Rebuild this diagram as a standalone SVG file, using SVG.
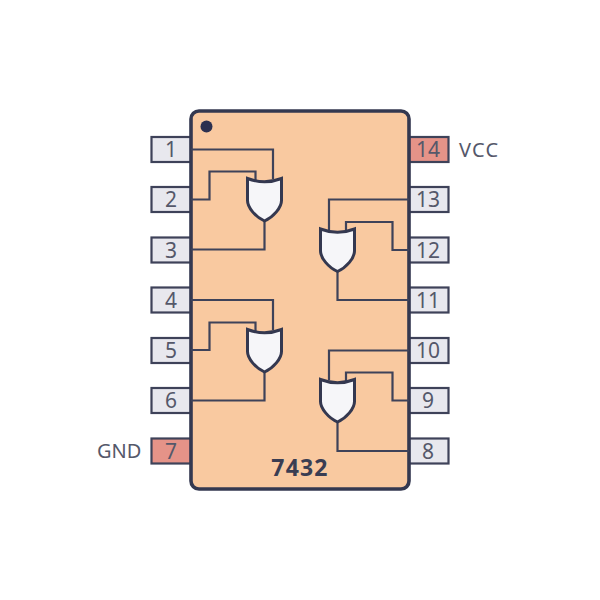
<svg xmlns="http://www.w3.org/2000/svg" width="600" height="600" viewBox="0 0 600 600">
<defs>
<style>
.pin{fill:#e8e8ee;stroke:#3e4259;stroke-width:2.2}
.pwr{fill:#e59388;stroke:#3e4259;stroke-width:2.2}
.num{font-family:"Noto Sans","Open Sans",sans-serif;font-size:21px;fill:#55586a;text-anchor:middle}
.lbl{font-family:"Noto Sans","Open Sans",sans-serif;font-size:20px;fill:#55586a}
.wire{fill:none;stroke:#3e4259;stroke-width:2.2;stroke-linejoin:miter}
.gate{fill:#f6f6f9;stroke:#343850;stroke-width:3;stroke-linejoin:miter}
</style>
<path id="or" d="M-17 0C-11 2.300 -6 3.300 0 3.300C6 3.300 11 2.300 17 0V22C17 29 9 38.500 0 42.500C-9 38.500 -17 29 -17 22Z"/>
</defs>
<g id="pins">
<g id="pin1"><rect class="pin" x="151.500" y="137" width="39.500" height="25"/><text class="num" x="171" y="157">1</text></g>
<g id="pin2"><rect class="pin" x="151.500" y="187" width="39.500" height="25"/><text class="num" x="171" y="207">2</text></g>
<g id="pin3"><rect class="pin" x="151.500" y="237.500" width="39.500" height="25"/><text class="num" x="171" y="257.500">3</text></g>
<g id="pin4"><rect class="pin" x="151.500" y="287.500" width="39.500" height="25"/><text class="num" x="171" y="307.500">4</text></g>
<g id="pin5"><rect class="pin" x="151.500" y="338" width="39.500" height="25"/><text class="num" x="171" y="358">5</text></g>
<g id="pin6"><rect class="pin" x="151.500" y="388" width="39.500" height="25"/><text class="num" x="171" y="408">6</text></g>
<g id="pin7"><rect class="pwr" x="151.500" y="438.500" width="39.500" height="25"/><text class="num" x="171" y="458.500">7</text></g>
<g id="pin8"><rect class="pin" x="409" y="438.500" width="39.500" height="25"/><text class="num" x="428" y="458.500">8</text></g>
<g id="pin9"><rect class="pin" x="409" y="388" width="39.500" height="25"/><text class="num" x="428" y="408">9</text></g>
<g id="pin10"><rect class="pin" x="409" y="338" width="39.500" height="25"/><text class="num" x="428" y="358">10</text></g>
<g id="pin11"><rect class="pin" x="409" y="287.500" width="39.500" height="25"/><text class="num" x="428" y="307.500">11</text></g>
<g id="pin12"><rect class="pin" x="409" y="237.500" width="39.500" height="25"/><text class="num" x="428" y="257.500">12</text></g>
<g id="pin13"><rect class="pin" x="409" y="187" width="39.500" height="25"/><text class="num" x="428" y="207">13</text></g>
<g id="pin14"><rect class="pwr" x="409" y="137" width="39.500" height="25"/><text class="num" x="428" y="157">14</text></g>
</g>
<g id="chip">
<rect x="191" y="111" width="218" height="378" rx="8" fill="#f9c9a0" stroke="#343850" stroke-width="3.600"/>
<circle cx="206.500" cy="126.500" r="6" fill="#2c3050"/>
<text x="300" y="476" font-family="'Noto Sans','Open Sans',sans-serif" font-size="23" font-weight="700" letter-spacing="1.200" fill="#3a3d52" text-anchor="middle">7432</text>
</g>
<g id="connectors">
<path class="wire" d="M191 149.500H273V179"/>
<path class="wire" d="M191 199.500H209.500V171.500H255.500V180"/>
<path class="wire" d="M191 249.500H264.500V221"/>
<path class="wire" d="M409 199.500H329V230"/>
<path class="wire" d="M409 250H392.500V222H346V231"/>
<path class="wire" d="M409 300H337.500V272"/>
<path class="wire" d="M191 300H273V330"/>
<path class="wire" d="M191 350H209.500V322.500H255.500V331"/>
<path class="wire" d="M191 400.500H264.500V372"/>
<path class="wire" d="M409 350.500H329V380"/>
<path class="wire" d="M409 400.500H392.500V372.500H346V381"/>
<path class="wire" d="M409 451H337.500V422"/>
</g>
<g id="gate1"><use href="#or" class="gate" x="264.500" y="178.500"/></g>
<g id="gate2"><use href="#or" class="gate" x="337.500" y="229"/></g>
<g id="gate3"><use href="#or" class="gate" x="264.500" y="329.500"/></g>
<g id="gate4"><use href="#or" class="gate" x="337.500" y="379.500"/></g>
<g id="labels">
<text class="lbl" x="459" y="157" letter-spacing="1.200">VCC</text>
<text class="lbl" x="97" y="458">GND</text>
</g>
</svg>
